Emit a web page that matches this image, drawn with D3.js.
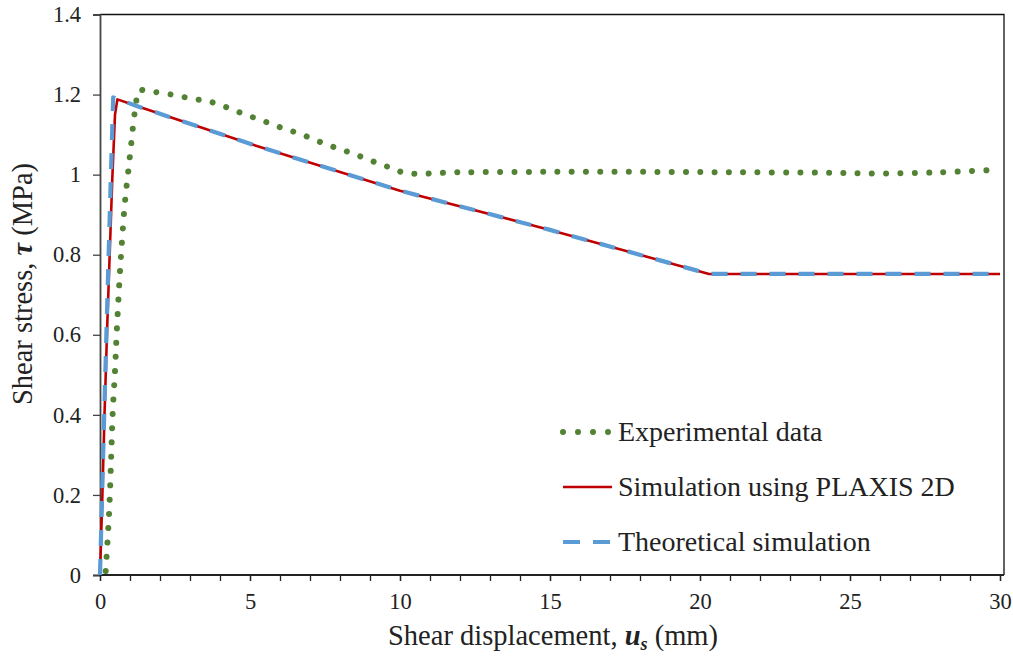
<!DOCTYPE html>
<html>
<head>
<meta charset="utf-8">
<script src="https://cdn.jsdelivr.net/npm/d3@7"></script>
<style>
  html, body { margin: 0; padding: 0; background: #fff; }
  svg text { font-family: "Liberation Serif", "Times New Roman", serif; fill: #222; }
</style>
</head>
<body>
<svg id="chart" width="1013" height="657"></svg>
<script>
// Experimental shear test (mm, MPa)
const expDisp = [0.19, 0.30, 0.37, 0.42, 0.50, 0.56, 0.66, 0.72, 0.83, 0.93, 1.03, 1.13, 1.20, 1.28,
  1.67, 2.14, 2.61, 3.09, 3.53, 4.00, 4.44, 4.87, 5.31, 5.76, 6.20, 6.64, 7.09, 7.53, 7.98, 8.42,
  8.87, 9.31, 9.74, 10.19, 12, 15, 18, 21, 24, 26, 28, 29.55];
const expStress = [0.01, 0.15, 0.29, 0.40, 0.51, 0.61, 0.75, 0.82, 0.93, 1.00, 1.07, 1.14, 1.175, 1.21,
  1.208, 1.203, 1.197, 1.189, 1.185, 1.174, 1.162, 1.149, 1.138, 1.125, 1.113, 1.103, 1.089, 1.076, 1.064, 1.053,
  1.040, 1.027, 1.016, 1.004, 1.006, 1.007, 1.007, 1.006, 1.005, 1.003, 1.006, 1.011];

// PLAXIS 2D simulation
const plaxisDisp = [0, 0.08, 0.15, 0.24, 0.41, 0.50, 0.58, 1.2, 5, 10, 15, 20.3, 30];
const plaxisStress = [0, 0.2, 0.4, 0.62, 0.99, 1.15, 1.188, 1.172, 1.077, 0.96, 0.862, 0.752, 0.752];

// Theoretical simulation
const theoryDisp = [0, 0.07, 0.14, 0.22, 0.36, 0.44, 1.2, 5, 10, 15, 20.3, 30];
const theoryStress = [0, 0.2, 0.4, 0.62, 0.99, 1.193, 1.172, 1.077, 0.96, 0.862, 0.752, 0.752];

const xTicks = [0, 5, 10, 15, 20, 25, 30];
const yTicks = [0, 0.2, 0.4, 0.6, 0.8, 1, 1.2, 1.4];
const legendLabels = ["Experimental data", "Simulation using PLAXIS 2D", "Theoretical simulation"];

const svg = d3.select("#chart");
const plotLeft = 100, plotRight = 1000, plotTop = 14.5, plotBottom = 575, frameRight = 1004;

const x = d3.scaleLinear().domain([0, 30]).range([plotLeft, plotRight]);
const y = d3.scaleLinear().domain([0, 1.4]).range([plotBottom, plotTop]);

const zip = (a, b) => a.map((v, i) => [v, b[i]]);
const line = d3.line().x(d => x(d[0])).y(d => y(d[1]));

// frame (top and right)
svg.append("path")
  .attr("d", `M${plotLeft},${plotTop}H${frameRight}V${plotBottom}`)
  .attr("fill", "none").attr("stroke", "#111").attr("stroke-width", 1.3);

// y axis
const yAxis = d3.axisLeft(y).tickValues(yTicks).tickSize(7).tickPadding(12)
  .tickFormat(d => d3.format("~g")(d));
const gy = svg.append("g").attr("transform", `translate(${plotLeft},0)`).call(yAxis);
gy.select(".domain").attr("stroke", "#444").attr("stroke-width", 1.8);
gy.selectAll(".tick line").attr("stroke", "#444").attr("stroke-width", 1.3);
gy.selectAll(".tick text").attr("font-size", 22.5).attr("fill", "#222")
  .style("font-family", "'Liberation Serif', serif");

// x axis: minor ticks every 1 mm, labels every 5 mm
const xAxisMinor = d3.axisBottom(x).ticks(30).tickSize(6).tickFormat("");
const gxm = svg.append("g").attr("transform", `translate(0,${plotBottom})`).call(xAxisMinor);
gxm.select(".domain").remove();
gxm.selectAll(".tick line").attr("stroke", "#222").attr("stroke-width", 1.3);

const xAxis = d3.axisBottom(x).tickValues(xTicks).tickSize(6).tickPadding(12)
  .tickFormat(d3.format("d"));
const gx = svg.append("g").attr("transform", `translate(0,${plotBottom})`).call(xAxis);
gx.select(".domain").attr("d", `M${plotLeft},0H${frameRight}`).attr("stroke", "#222").attr("stroke-width", 1.8);
gx.selectAll(".tick line").attr("stroke", "#222").attr("stroke-width", 1.3);
gx.selectAll(".tick text").attr("font-size", 22.5).attr("fill", "#222")
  .style("font-family", "'Liberation Serif', serif");

// series
const green = "#548235", red = "#c00000", blue = "#5b9bd5";

svg.append("path").datum(zip(plaxisDisp, plaxisStress))
  .attr("d", line).attr("fill", "none").attr("stroke", red).attr("stroke-width", 2.6)
  .attr("stroke-linejoin", "round");

svg.append("path").datum(zip(theoryDisp, theoryStress))
  .attr("d", line).attr("fill", "none").attr("stroke", blue).attr("stroke-width", 4.2)
  .attr("stroke-dasharray", "16,13").attr("stroke-linejoin", "round");

// round-dot line; spacing tuned so a dot sits on both ends of the curve
const smoothLine = d3.line().x(d => x(d[0])).y(d => y(d[1])).curve(d3.curveCatmullRom);
const expPath = svg.append("path").datum(zip(expDisp, expStress))
  .attr("d", smoothLine).attr("fill", "none").attr("stroke", green)
  .attr("stroke-width", 6).attr("stroke-linecap", "round");
const expLen = expPath.node().getTotalLength();
const dotCount = Math.round(expLen / 14.3);
const dotGap = (expLen - 0.5) / dotCount;
expPath.attr("stroke-dasharray", `0.01,${dotGap - 0.01}`);

// legend
const legendX = 563, legendW = 47, textX = 618, rowY = [432, 487, 542];
const lg = svg.append("g");
lg.append("line").attr("x1", legendX).attr("x2", legendX + 46).attr("y1", rowY[0]).attr("y2", rowY[0])
  .attr("stroke", green).attr("stroke-width", 6).attr("stroke-linecap", "round").attr("stroke-dasharray", "0,15");
lg.append("line").attr("x1", legendX).attr("x2", legendX + legendW + 2).attr("y1", rowY[1]).attr("y2", rowY[1])
  .attr("stroke", red).attr("stroke-width", 2.6);
lg.append("line").attr("x1", legendX).attr("x2", legendX + legendW).attr("y1", rowY[2]).attr("y2", rowY[2])
  .attr("stroke", blue).attr("stroke-width", 4.2).attr("stroke-dasharray", "17,13");
legendLabels.forEach((t, i) => {
  lg.append("text").attr("x", textX).attr("y", rowY[i] + 9).attr("font-size", 28).text(t);
});

// axis titles
const xt = svg.append("text").attr("x", 553).attr("y", 645).attr("text-anchor", "middle").attr("font-size", 28.5);
xt.append("tspan").text("Shear displacement, ");
xt.append("tspan").attr("font-weight", "bold").attr("font-style", "italic").text("u");
xt.append("tspan").attr("font-weight", "bold").attr("font-style", "italic").attr("font-size", 18).attr("dy", 5).text("s");
xt.append("tspan").attr("dy", -5).text(" (mm)");

const yt = svg.append("text").attr("transform", "translate(32,284) rotate(-90)")
  .attr("text-anchor", "middle").attr("font-size", 28.5);
yt.append("tspan").text("Shear stress, ");
yt.append("tspan").attr("font-weight", "bold").attr("font-style", "italic").text("τ");
yt.append("tspan").text(" (MPa)");
</script>
</body>
</html>
